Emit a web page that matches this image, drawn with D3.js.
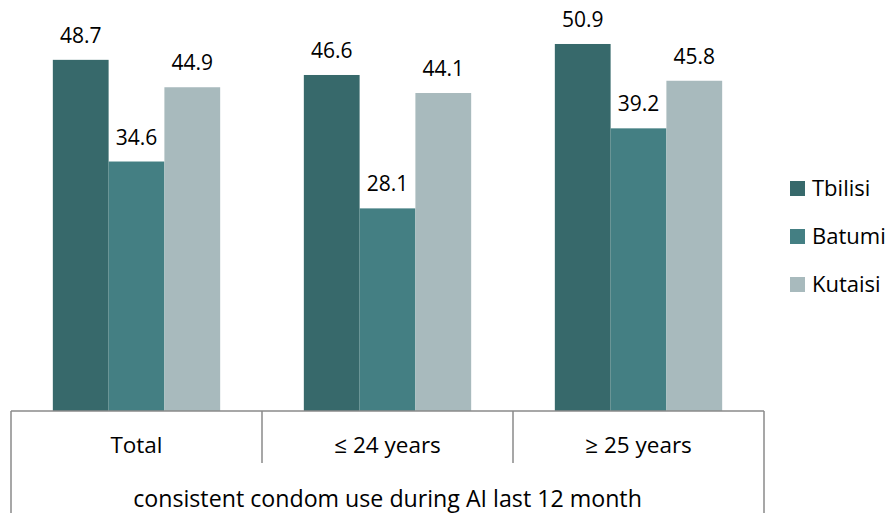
<!DOCTYPE html>
<html>
<head>
<meta charset="utf-8">
<script src="https://cdn.jsdelivr.net/npm/d3@7"></script>
<style>
  html, body { margin: 0; padding: 0; background: #ffffff; }
  svg { display: block; }
  text { font-family: "Open Sans", sans-serif; fill: #000; }
</style>
</head>
<body>
<svg id="chart" width="888" height="513"></svg>
<script>
const categories = ["Total", "\u2264 24 years", "\u2265 25 years"];
const seriesNames = ["Tbilisi", "Batumi", "Kutaisi"];
const tbilisi = [48.7, 46.6, 50.9];
const batumi = [34.6, 28.1, 39.2];
const kutaisi = [44.9, 44.1, 45.8];
const axisTitle = "consistent condom use during AI last 12 month";
const colors = ["#37696b", "#447f83", "#a8babd"];

const seriesValues = [tbilisi, batumi, kutaisi];

const svg = d3.select("#chart");
const left = 11, right = 764, base = 411;

const x0 = d3.scaleBand().domain(categories).range([left, right]).padding(0);
const x1 = d3.scaleBand().domain(seriesNames).range([0, x0.bandwidth()])
  .paddingInner(0).paddingOuter(0.75);
const y = d3.scaleLinear().domain([0, 57]).range([base, 0]);
const color = d3.scaleOrdinal().domain(seriesNames).range(colors);

const data = categories.map((c, i) => ({
  cat: c,
  vals: seriesNames.map((s, j) => ({ s, v: seriesValues[j][i] }))
}));

const g = svg.selectAll("g.cat").data(data).join("g")
  .attr("class", "cat")
  .attr("transform", d => `translate(${x0(d.cat)},0)`);

g.selectAll("rect").data(d => d.vals).join("rect")
  .attr("x", d => x1(d.s))
  .attr("y", d => y(d.v))
  .attr("width", x1.bandwidth())
  .attr("height", d => base - y(d.v))
  .attr("fill", d => color(d.s));

g.selectAll("text.val").data(d => d.vals).join("text")
  .attr("class", "val")
  .attr("x", d => x1(d.s) + x1.bandwidth() / 2)
  .attr("y", d => y(d.v) - 17)
  .attr("text-anchor", "middle")
  .style("font-size", "21px")
  .text(d => d.v.toFixed(1));

// axis lines
const lineColor = "#8a8a8a";
svg.append("line")
  .attr("x1", left).attr("x2", right)
  .attr("y1", base).attr("y2", base)
  .attr("stroke", lineColor).attr("stroke-width", 1.5);

const edges = categories.map(c => x0(c)).concat([right]);
svg.selectAll("line.div").data(edges).join("line")
  .attr("class", "div")
  .attr("x1", d => d).attr("x2", d => d)
  .attr("y1", base)
  .attr("y2", (d, i) => (i === 0 || i === edges.length - 1) ? 513 : 463)
  .attr("stroke", lineColor).attr("stroke-width", 1.5);

svg.selectAll("text.cat").data(categories).join("text")
  .attr("class", "cat")
  .attr("x", d => x0(d) + x0.bandwidth() / 2)
  .attr("y", 453)
  .attr("text-anchor", "middle")
  .style("font-size", "22.5px")
  .text(d => d);

svg.append("text")
  .attr("x", (left + right) / 2)
  .attr("y", 507)
  .attr("text-anchor", "middle")
  .style("font-size", "23.2px")
  .text(axisTitle);

// legend
const lg = svg.selectAll("g.leg").data(seriesNames).join("g")
  .attr("class", "leg")
  .attr("transform", (d, i) => `translate(790,${181 + i * 48})`);
lg.append("rect").attr("width", 15).attr("height", 15).attr("fill", d => color(d));
lg.append("text").attr("x", 22).attr("y", 15)
  .style("font-size", "22px").text(d => d);
</script>
</body>
</html>
